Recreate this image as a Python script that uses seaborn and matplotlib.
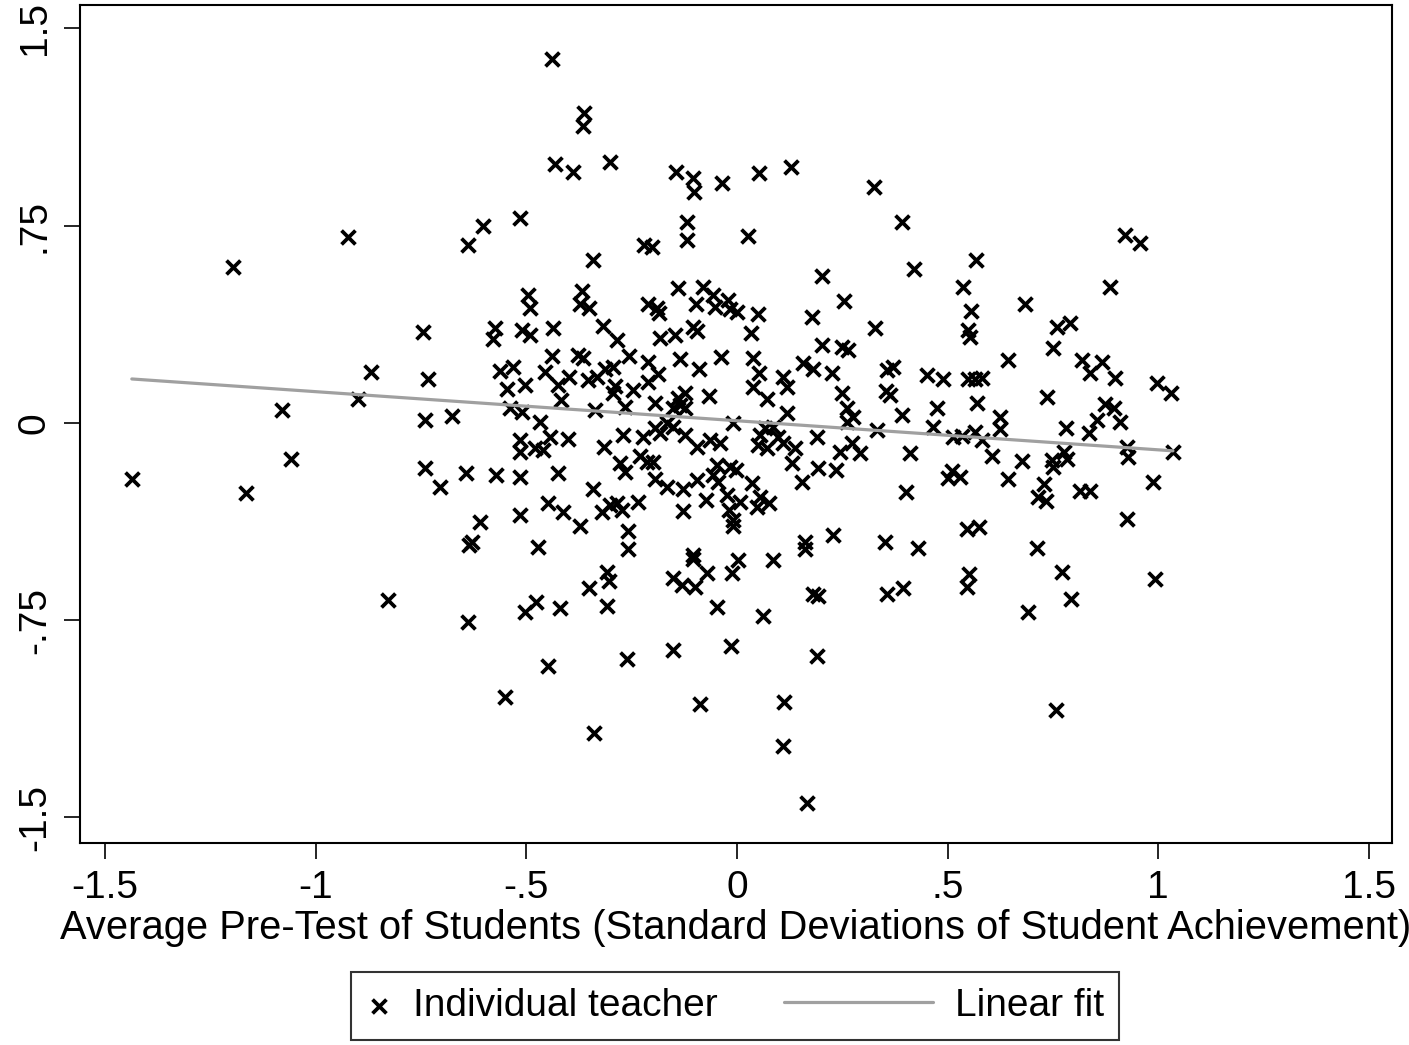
import numpy as np
import matplotlib
matplotlib.use("Agg")
import matplotlib.pyplot as plt
import seaborn as sns
from matplotlib.lines import Line2D
from matplotlib.legend_handler import HandlerLine2D

# Teacher-level points (x: average pre-test, y: teacher effect)
pretest = [
    -1.196, -0.923, -0.638, -0.603, -0.515, -0.439, -0.363, -0.366, -0.432, -0.389,
    -0.301, -0.145, -0.104, -0.102, -0.036, 0.052, 0.128, 0.325, -0.119, -0.119,
    0.026, 0.392, -0.221, -0.202, -0.342, 0.202, 0.420, 0.921, 0.957, 0.567,
    -1.436, -1.165, -1.080, -1.059, -0.869, -0.900, -0.745, -0.733, -0.741, -0.676,
    -0.741, -0.705, -0.643, -0.610, -0.636, -0.629, -0.572, -0.574, -0.579, -0.563,
    -0.532, -0.546, -0.539, -0.140, -0.081, -0.496, -0.491, -0.368, -0.373, -0.351,
    -0.211, -0.190, -0.185, -0.097, -0.057, -0.052, -0.021, -0.017, 0.000, 0.050,
    0.254, 0.178, 0.328, -0.510, -0.491, -0.437, -0.318, -0.285, -0.183, -0.147,
    -0.104, -0.095, 0.033, 0.202, 0.249, 0.263, -0.439, -0.377, -0.366, -0.256,
    -0.211, -0.188, -0.135, -0.090, -0.038, 0.038, 0.052, 0.157, 0.180, 0.225,
    0.109, 0.356, 0.370, 0.451, -0.456, -0.399, -0.354, -0.332, -0.313, -0.294,
    -0.503, -0.425, -0.290, -0.294, -0.247, -0.211, 0.119, 0.038, 0.249, 0.354,
    0.363, -0.066, -0.140, -0.123, -0.135, -0.195, -0.418, 0.071, -0.510, -0.337,
    -0.266, -0.152, -0.123, 0.119, 0.261, 0.275, 0.392, 0.475, -0.468, -0.166,
    -0.152, -0.009, 0.066, 0.085, 0.261, 0.332, 0.465, -0.515, -0.515, -0.479,
    -0.460, -0.444, -0.401, -0.271, -0.223, -0.183, -0.195, -0.123, -0.095, -0.064,
    -0.040, 0.055, 0.050, 0.071, 0.097, 0.109, 0.138, 0.190, 0.244, 0.273,
    0.292, 0.411, -0.316, -0.230, -0.214, -0.199, -0.278, -0.266, -0.047, -0.057,
    -0.017, -0.002, 0.131, 0.154, 0.192, 0.235, -0.425, -0.515, -0.195, -0.095,
    -0.342, -0.166, -0.128, -0.045, 0.036, -0.074, -0.024, 0.007, 0.055, 0.076,
    0.047, -0.301, -0.285, -0.320, -0.273, -0.235, -0.449, -0.413, -0.515, -0.128,
    -0.019, 0.401, -0.373, -0.259, -0.259, -0.472, -0.009, -0.009, 0.161, 0.161,
    0.228, 0.351, 0.430, -0.104, -0.104, 0.002, 0.085, 0.536, 0.885, 0.684,
    0.555, 0.548, 0.553, 0.760, 0.790, 0.750, 0.643, 0.819, 0.866, 0.838,
    0.897, 0.997, 1.030, 0.489, 0.548, 0.565, 0.582, 0.570, 0.736, 0.873,
    0.895, 0.854, 0.909, 0.624, 0.624, 0.513, 0.534, 0.565, 0.582, 0.781,
    0.836, 0.926, 0.928, 1.035, 0.605, 0.676, 0.748, 0.750, 0.783, 0.776,
    0.510, 0.501, 0.529, 0.643, 0.729, 0.714, 0.733, 0.814, 0.838, 0.987,
    0.926, 0.546, 0.574, 0.712, -0.828, -0.638, -0.551, -0.309, -0.304, -0.351,
    -0.309, -0.503, -0.477, -0.420, -0.152, -0.131, -0.100, -0.071, -0.012, -0.047,
    0.062, 0.180, 0.192, 0.356, 0.394, -0.449, -0.261, -0.152, -0.014, 0.190,
    -0.088, 0.112, -0.339, 0.109, 0.166, 0.551, 0.546, 0.771, 0.793, 0.691,
    0.992, 0.757,
]
effect = [
    0.593, 0.707, 0.677, 0.749, 0.779, 1.384, 1.179, 1.129, 0.985, 0.954,
    0.992, 0.954, 0.932, 0.878, 0.913, 0.951, 0.973, 0.897, 0.764, 0.696,
    0.711, 0.764, 0.677, 0.669, 0.620, 0.559, 0.586, 0.715, 0.684, 0.620,
    -0.213, -0.266, 0.049, -0.137, 0.194, 0.091, 0.346, 0.167, 0.011, 0.027,
    -0.171, -0.243, -0.190, -0.376, -0.464, -0.452, -0.198, 0.361, 0.319, 0.198,
    0.213, 0.129, 0.057, 0.513, 0.517, 0.487, 0.437, 0.502, 0.452, 0.437,
    0.452, 0.437, 0.418, 0.452, 0.487, 0.441, 0.468, 0.433, 0.422, 0.414,
    0.464, 0.403, 0.361, 0.354, 0.335, 0.361, 0.369, 0.316, 0.323, 0.335,
    0.365, 0.350, 0.342, 0.297, 0.289, 0.278, 0.255, 0.259, 0.247, 0.255,
    0.232, 0.186, 0.243, 0.205, 0.251, 0.247, 0.190, 0.228, 0.205, 0.190,
    0.175, 0.202, 0.213, 0.183, 0.194, 0.175, 0.163, 0.175, 0.205, 0.213,
    0.144, 0.144, 0.141, 0.114, 0.125, 0.156, 0.137, 0.137, 0.114, 0.122,
    0.106, 0.103, 0.095, 0.114, 0.068, 0.076, 0.087, 0.091, 0.042, 0.049,
    0.061, 0.057, 0.057, 0.038, 0.057, 0.023, 0.030, 0.057, 0.004, 0.000,
    -0.015, 0.000, -0.019, -0.015, 0.004, -0.027, -0.015, -0.065, -0.110, -0.095,
    -0.103, -0.053, -0.061, -0.046, -0.053, -0.038, -0.019, -0.046, -0.091, -0.065,
    -0.076, -0.046, -0.084, -0.095, -0.053, -0.076, -0.095, -0.053, -0.110, -0.076,
    -0.114, -0.114, -0.091, -0.125, -0.148, -0.148, -0.152, -0.186, -0.160, -0.198,
    -0.167, -0.179, -0.152, -0.224, -0.171, -0.179, -0.190, -0.205, -0.213, -0.217,
    -0.251, -0.243, -0.251, -0.224, -0.228, -0.293, -0.274, -0.300, -0.281, -0.304,
    -0.319, -0.312, -0.304, -0.338, -0.331, -0.300, -0.304, -0.338, -0.350, -0.335,
    -0.331, -0.262, -0.392, -0.411, -0.479, -0.471, -0.369, -0.392, -0.452, -0.479,
    -0.426, -0.452, -0.475, -0.502, -0.517, -0.521, -0.521, 0.517, 0.517, 0.452,
    0.426, 0.354, 0.327, 0.365, 0.380, 0.285, 0.240, 0.240, 0.232, 0.190,
    0.171, 0.152, 0.114, 0.167, 0.167, 0.167, 0.171, 0.076, 0.099, 0.072,
    0.057, 0.011, 0.004, 0.023, -0.023, -0.053, -0.049, -0.034, -0.065, -0.019,
    -0.038, -0.091, -0.129, -0.110, -0.125, -0.144, -0.141, -0.167, -0.137, -0.110,
    -0.183, -0.209, -0.205, -0.213, -0.232, -0.281, -0.297, -0.259, -0.259, -0.224,
    -0.365, -0.403, -0.395, -0.475, -0.673, -0.757, -1.042, -0.567, -0.601, -0.627,
    -0.696, -0.719, -0.681, -0.703, -0.589, -0.616, -0.624, -0.570, -0.570, -0.700,
    -0.734, -0.650, -0.658, -0.650, -0.627, -0.924, -0.897, -0.863, -0.848, -0.886,
    -1.068, -1.061, -1.179, -1.228, -1.445, -0.574, -0.624, -0.567, -0.669, -0.719,
    -0.593, -1.091,
]

fit_intercept = 0.0084
fit_slope = -0.1106

x_ticks = [-1.5, -1, -0.5, 0, 0.5, 1, 1.5]
x_ticklabels = ["-1.5", "-1", "-.5", "0", ".5", "1", "1.5"]
y_ticks = [-1.5, -0.75, 0, 0.75, 1.5]
y_ticklabels = ["-1.5", "-.75", "0", ".75", "1.5"]


class LongLine(HandlerLine2D):
    # draw the fit line handle longer than the marker handle (stretches to the left)
    def __init__(self, ext, **kw):
        super().__init__(**kw)
        self.ext = ext

    def create_artists(self, legend, orig_handle, xdescent, ydescent, width,
                       height, fontsize, trans):
        e = self.ext * fontsize
        return super().create_artists(legend, orig_handle, xdescent + e, ydescent,
                                      width + e, height, fontsize, trans)


sns.set_style("white")
plt.rcParams['font.family'] = ['Liberation Sans', 'DejaVu Sans']
for k in ['text.color', 'axes.labelcolor', 'xtick.color', 'ytick.color']:
    plt.rcParams[k] = 'black'

fig = plt.figure(figsize=(14.09, 10.45), dpi=100)
ax = fig.add_axes([80 / 1409, 1 - 843 / 1045, 1312 / 1409, 838 / 1045])

sns.scatterplot(x=pretest, y=effect, marker='x', color='black', s=100,
                linewidth=2.7, ax=ax, label='Individual teacher', legend=False)

fit_x = np.array([min(pretest), max(pretest)])
fit_y = fit_intercept + fit_slope * fit_x
sns.lineplot(x=fit_x, y=fit_y, color='#a0a0a0', linewidth=2.3, ax=ax,
             label='Linear fit', legend=False)

ax.set_xlim(-1.559, 1.555)
ax.set_ylim(-1.597, 1.589)
ax.set_xticks(x_ticks)
ax.set_xticklabels(x_ticklabels)
ax.set_yticks(y_ticks)
ax.set_yticklabels(y_ticklabels, rotation=90, va='center')
ax.tick_params(direction='out', length=11.5, width=1.2, labelsize=28,
               colors='black', bottom=True, left=True)
ax.tick_params(axis='x', pad=8)
ax.tick_params(axis='y', pad=8)
for sp in ax.spines.values():
    sp.set_color('black')
    sp.set_linewidth(1.5)
ax.set_xlabel('Average Pre-Test of Students (Standard Deviations of Student Achievement)',
              fontsize=28.7, labelpad=2)
ax.set_ylabel('')

handles, labels = ax.get_legend_handles_labels()
leg = fig.legend(handles, labels, loc='center',
                 bbox_to_anchor=(735 / 1409, 1 - 1006 / 1045), ncol=2,
                 fontsize=28, frameon=True, fancybox=False, edgecolor='black',
                 borderpad=0.4, handlelength=0.64, handletextpad=0.56,
                 columnspacing=4.9, scatterpoints=1,
                 handler_map={Line2D: LongLine(3.2)})
leg.get_frame().set_linewidth(1.5)

fig.savefig('out.png', dpi=100)
